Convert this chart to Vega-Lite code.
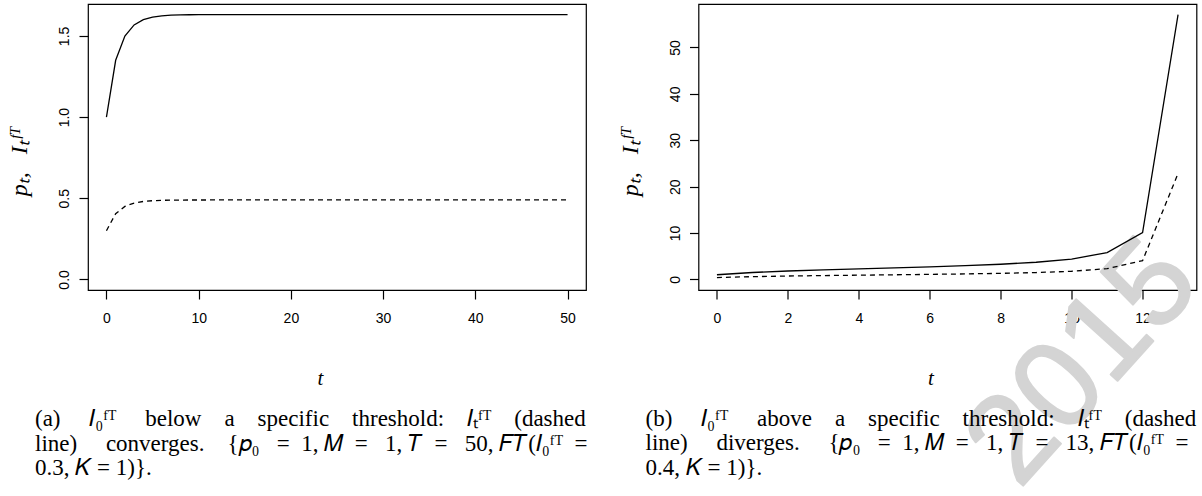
{
  "$schema": "https://vega.github.io/schema/vega-lite/v6.json",
  "padding": {"left": 6, "top": 3, "right": 0, "bottom": 0},
  "autosize": {"type": "pad"},
  "bounds": "flush",
  "spacing": 112.5,
  "background": "white",
  "config": {
    "view": {"stroke": "black", "strokeWidth": 1.2},
    "axis": {
      "domain": false, "grid": false, "ticks": true, "zindex": 1,
      "tickColor": "black", "tickSize": 9, "tickWidth": 1.2,
      "labelFont": "Liberation Sans", "labelFontSize": 14, "labelColor": "black",
      "titleFont": "Liberation Serif", "titleFontStyle": "italic", "titleFontWeight": "normal",
      "titleFontSize": 21, "titleColor": "black"
    },
    "axisX": {"labelPadding": 12, "titlePadding": 42, "titleX": 232, "labelFlush": false, "labelOverlap": false},
    "axisY": {"labelAngle": -90, "labelAlign": "center", "labelBaseline": "alphabetic", "labelPadding": 10.5, "titlePadding": 26, "titleY": 157, "titleFontSize": 24, "labelOverlap": false},
    "title": {
      "font": "Liberation Serif", "fontSize": 23, "fontWeight": "normal", "color": "black",
      "orient": "bottom", "anchor": "start", "frame": "group", "align": "left",
      "baseline": "top", "lineHeight": 24.5, "offset": 20, "dx": -53, "zindex": 1
    }
  },
  "datasets": {
    "a": [
      {"t": 0, "p": 1, "I": 0.3},
      {"t": 1, "p": 1.349859, "I": 0.404958},
      {"t": 2, "p": 1.499239, "I": 0.449772},
      {"t": 3, "p": 1.567954, "I": 0.470386},
      {"t": 4, "p": 1.600612, "I": 0.480184},
      {"t": 5, "p": 1.616371, "I": 0.484911},
      {"t": 6, "p": 1.624031, "I": 0.487209},
      {"t": 7, "p": 1.627767, "I": 0.48833},
      {"t": 8, "p": 1.629593, "I": 0.488878},
      {"t": 9, "p": 1.630485, "I": 0.489146},
      {"t": 10, "p": 1.630921, "I": 0.489276},
      {"t": 11, "p": 1.631135, "I": 0.48934},
      {"t": 12, "p": 1.631239, "I": 0.489372},
      {"t": 13, "p": 1.63129, "I": 0.489387},
      {"t": 14, "p": 1.631315, "I": 0.489395},
      {"t": 15, "p": 1.631327, "I": 0.489398},
      {"t": 16, "p": 1.631333, "I": 0.4894},
      {"t": 17, "p": 1.631336, "I": 0.489401},
      {"t": 18, "p": 1.631338, "I": 0.489401},
      {"t": 19, "p": 1.631339, "I": 0.489402},
      {"t": 20, "p": 1.631339, "I": 0.489402},
      {"t": 21, "p": 1.631339, "I": 0.489402},
      {"t": 22, "p": 1.631339, "I": 0.489402},
      {"t": 23, "p": 1.631339, "I": 0.489402},
      {"t": 24, "p": 1.631339, "I": 0.489402},
      {"t": 25, "p": 1.631339, "I": 0.489402},
      {"t": 26, "p": 1.631339, "I": 0.489402},
      {"t": 27, "p": 1.631339, "I": 0.489402},
      {"t": 28, "p": 1.631339, "I": 0.489402},
      {"t": 29, "p": 1.631339, "I": 0.489402},
      {"t": 30, "p": 1.631339, "I": 0.489402},
      {"t": 31, "p": 1.631339, "I": 0.489402},
      {"t": 32, "p": 1.631339, "I": 0.489402},
      {"t": 33, "p": 1.631339, "I": 0.489402},
      {"t": 34, "p": 1.631339, "I": 0.489402},
      {"t": 35, "p": 1.631339, "I": 0.489402},
      {"t": 36, "p": 1.631339, "I": 0.489402},
      {"t": 37, "p": 1.631339, "I": 0.489402},
      {"t": 38, "p": 1.631339, "I": 0.489402},
      {"t": 39, "p": 1.631339, "I": 0.489402},
      {"t": 40, "p": 1.631339, "I": 0.489402},
      {"t": 41, "p": 1.631339, "I": 0.489402},
      {"t": 42, "p": 1.631339, "I": 0.489402},
      {"t": 43, "p": 1.631339, "I": 0.489402},
      {"t": 44, "p": 1.631339, "I": 0.489402},
      {"t": 45, "p": 1.631339, "I": 0.489402},
      {"t": 46, "p": 1.631339, "I": 0.489402},
      {"t": 47, "p": 1.631339, "I": 0.489402},
      {"t": 48, "p": 1.631339, "I": 0.489402},
      {"t": 49, "p": 1.631339, "I": 0.489402},
      {"t": 50, "p": 1.631339, "I": 0.489402}
    ],
    "b": [
      {"t": 0, "p": 1, "I": 0.4},
      {"t": 1, "p": 1.491825, "I": 0.59673},
      {"t": 2, "p": 1.81617, "I": 0.726468},
      {"t": 3, "p": 2.067765, "I": 0.827106},
      {"t": 4, "p": 2.286693, "I": 0.914677},
      {"t": 5, "p": 2.495969, "I": 0.998388},
      {"t": 6, "p": 2.713903, "I": 1.085561},
      {"t": 7, "p": 2.9611, "I": 1.18444},
      {"t": 8, "p": 3.268856, "I": 1.307542},
      {"t": 9, "p": 3.697076, "I": 1.47883},
      {"t": 10, "p": 4.387811, "I": 1.755124},
      {"t": 11, "p": 5.784168, "I": 2.313667},
      {"t": 12, "p": 10.111436, "I": 4.044574},
      {"t": 13, "p": 57.08687, "I": 22.834748}
    ],
    "mark": [{"label": "2015"}]
  },
  "hconcat": [
    {
      "width": 498, "height": 286,
      "title": {"text": [
        "(a)\u00a0\u00a0\u00a0\u00a0\u00a0𝐼₀ᶠᵀ\u00a0\u00a0\u00a0\u00a0\u00a0below\u00a0\u00a0\u00a0\u00a0a\u00a0\u00a0\u00a0\u00a0specific\u00a0\u00a0\u00a0\u00a0threshold:\u00a0\u00a0\u00a0\u00a0𝐼ₜᶠᵀ\u00a0\u00a0\u00a0\u00a0(dashed",
        "line)\u00a0\u00a0\u00a0\u00a0\u00a0converges.\u00a0\u00a0\u00a0\u00a0{𝑝₀\u00a0\u00a0\u00a0=\u00a0\u00a01,\u00a0𝑀\u00a0\u00a0=\u00a0\u00a0\u00a01,\u00a0𝑇\u00a0\u00a0=\u00a0\u00a0\u00a050,\u00a0𝐹𝑇(𝐼₀ᶠᵀ\u00a0\u00a0=",
        "0.3,\u00a0𝐾\u00a0=\u00a01)}."
      ]},
      "data": {"name": "a"},
      "layer": [
        {
          "mark": {"type": "line", "color": "black", "strokeWidth": 1.3},
          "encoding": {
            "x": {"field": "t", "type": "quantitative", "scale": {"domain": [-2, 52], "nice": false, "zero": false}, "axis": {"values": [0, 10, 20, 30, 40, 50], "title": "t"}},
            "y": {"field": "p", "type": "quantitative", "scale": {"domain": [-0.065254, 1.696593], "nice": false, "zero": false}, "axis": {"values": [0, 0.5, 1, 1.5], "format": ".1f", "title": "pₜ,\u00a0\u00a0\u00a0Iₜᶠᵀ"}}
          }
        },
        {
          "mark": {"type": "line", "color": "black", "strokeWidth": 1.3, "strokeDash": [5, 4]},
          "encoding": {
            "x": {"field": "t", "type": "quantitative"},
            "y": {"field": "I", "type": "quantitative"}
          }
        }
      ]
    },
    {
      "width": 498, "height": 286,
      "title": {"offset": -99, "text": [
        "(b)\u00a0\u00a0\u00a0\u00a0\u00a0𝐼₀ᶠᵀ\u00a0\u00a0\u00a0\u00a0\u00a0above\u00a0\u00a0\u00a0\u00a0a\u00a0\u00a0\u00a0\u00a0specific\u00a0\u00a0\u00a0\u00a0threshold:\u00a0\u00a0\u00a0\u00a0𝐼ₜᶠᵀ\u00a0\u00a0\u00a0\u00a0(dashed",
        "line)\u00a0\u00a0\u00a0\u00a0\u00a0diverges.\u00a0\u00a0\u00a0\u00a0\u00a0{𝑝₀\u00a0\u00a0\u00a0=\u00a0\u00a01,\u00a0𝑀\u00a0\u00a0=\u00a0\u00a0\u00a01,\u00a0𝑇\u00a0\u00a0=\u00a0\u00a0\u00a013,\u00a0𝐹𝑇(𝐼₀ᶠᵀ\u00a0\u00a0=",
        "0.4,\u00a0𝐾\u00a0=\u00a01)}."
      ]},
      "layer": [
        {
          "data": {"name": "mark"},
          "mark": {"type": "text", "font": "Liberation Sans", "fontSize": 124, "angle": -48, "color": "#d4d4d4", "stroke": "#d4d4d4", "strokeWidth": 2, "strokeJoin": "round", "align": "center", "baseline": "middle"},
          "encoding": {
            "text": {"field": "label"},
            "x": {"datum": 10.34, "type": "quantitative", "scale": {"domain": [-0.52, 13.52], "nice": false, "zero": false}, "axis": {"values": [0, 2, 4, 6, 8, 10, 12], "title": "t"}},
            "y": {"datum": -18.02, "type": "quantitative", "scale": {"domain": [-2.28348, 59.37037], "nice": false, "zero": false}, "axis": {"values": [0, 10, 20, 30, 40, 50], "format": "d", "title": "pₜ,\u00a0\u00a0\u00a0Iₜᶠᵀ"}}
          }
        },
        {
          "data": {"name": "b"},
          "mark": {"type": "line", "color": "black", "strokeWidth": 1.3},
          "encoding": {
            "x": {"field": "t", "type": "quantitative", "scale": {"domain": [-0.52, 13.52], "nice": false, "zero": false}, "axis": {"values": [0, 2, 4, 6, 8, 10, 12], "title": "t"}},
            "y": {"field": "p", "type": "quantitative", "scale": {"domain": [-2.28348, 59.37037], "nice": false, "zero": false}, "axis": {"values": [0, 10, 20, 30, 40, 50], "format": "d", "title": "pₜ,\u00a0\u00a0\u00a0Iₜᶠᵀ"}}
          }
        },
        {
          "data": {"name": "b"},
          "mark": {"type": "line", "color": "black", "strokeWidth": 1.3, "strokeDash": [5, 4]},
          "encoding": {
            "x": {"field": "t", "type": "quantitative"},
            "y": {"field": "I", "type": "quantitative"}
          }
        }
      ]
    }
  ]
}
